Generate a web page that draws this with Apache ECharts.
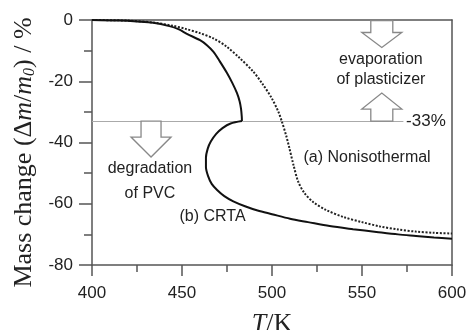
<!DOCTYPE html>
<html>
<head>
<meta charset="utf-8">
<script src="https://cdn.jsdelivr.net/npm/echarts@6/dist/echarts.min.js"></script>
<style>
  html, body { margin: 0; padding: 0; background: #fff; }
  #c { width: 466px; height: 330px; }
</style>
</head>
<body>
<div id="c"></div>
<script>
// Temperature axis (K) and mass-change axis (%)
const tempRange = [400, 600];
const tempStep = 50;
const massRange = [-80, 0];
const massStep = 20;

// (a) Nonisothermal run: [T / K, mass change / %]
const nonisothermal = [
  [400, 0], [420, -0.2], [435, -0.9], [445, -1.9], [452, -2.9], [460, -4.3],
  [467.4, -6.0], [474.8, -8.7], [482, -12.4], [489.5, -16.8], [495, -21.1],
  [499.8, -25.5], [503.5, -29.9], [505.5, -33.2], [508, -38.0], [509.5, -41.5],
  [512, -47.5], [514.5, -52.7], [518, -56.5], [523, -59.5], [530, -62.0],
  [540, -64.4], [550, -66.0], [560, -67.4], [570, -68.4], [580, -69.1],
  [590, -69.5], [600, -69.7]
];

// (b) CRTA run, heating branch up to the plasticizer loss level
const crtaUpper = [
  [400, 0], [415, -0.2], [425, -0.5], [434, -0.9], [443, -2.0], [448, -3.0],
  [453, -4.6], [460, -6.6], [464, -8.3], [467.5, -10.4], [471, -13.5],
  [475, -17.3], [478, -20.6], [480.5, -23.8], [482, -26.5], [482.8, -29.0],
  [483.2, -31.5], [483.3, -33.0]
];

// (b) CRTA run, back-bending branch during PVC degradation
const crtaLower = [
  [483.3, -33.0], [477, -33.8], [472.5, -35.3], [469, -37.2], [466, -39.7],
  [464.3, -42.0], [463.3, -45.0], [463.3, -48.0], [464.5, -51.0],
  [466.5, -53.5], [469.5, -55.5], [473.5, -57.5], [478.5, -59.2],
  [485, -60.8], [492, -62.2], [500, -63.4], [510, -64.9], [520, -66.0],
  [532, -67.3], [545, -68.3], [558, -69.2], [570, -70.0], [580, -70.5],
  [590, -71.0], [600, -71.4]
];

// Plasticizer content level
const plasticizerLevel = -33;
const plasticizerLabel = '-33%';

const sans = '"Liberation Sans", Arial, Helvetica, sans-serif';
const serif = '"Liberation Serif", "Times New Roman", serif';
const ink = '#222';
const frame = '#555';

const chart = echarts.init(document.getElementById('c'), null, { renderer: 'canvas' });

const frameAxis = {
  axisLine: { show: true, onZero: false, lineStyle: { color: frame, width: 1.5 } },
  splitLine: { show: false }
};

const titleRich = {
  n: { fontFamily: serif, fontSize: 26, color: ink },
  i: { fontFamily: serif, fontSize: 26, fontStyle: 'italic', color: ink },
  s: { fontFamily: serif, fontSize: 16, fontStyle: 'italic', color: ink, verticalAlign: 'bottom' }
};

const option = {
  animation: false,
  backgroundColor: '#fff',
  grid: { left: 92, right: 14, top: 20, bottom: 65, containLabel: false, outerBoundsMode: 'none' },
  xAxis: [
    Object.assign({}, frameAxis, {
      type: 'value', position: 'bottom',
      min: tempRange[0], max: tempRange[1], interval: tempStep,
      axisTick: { show: true, length: 11, lineStyle: { color: frame, width: 1.5 } },
      minorTick: { show: true, splitNumber: 2, length: 7, lineStyle: { color: frame, width: 1.5 } },
      axisLabel: { color: ink, fontSize: 17, fontFamily: sans, margin: 20 },
      name: '{i|T}{n|/K}',
      nameLocation: 'middle', nameGap: 46,
      nameTextStyle: { rich: titleRich }
    }),
    Object.assign({}, frameAxis, {
      type: 'value', position: 'top',
      min: tempRange[0], max: tempRange[1],
      axisTick: { show: false }, axisLabel: { show: false }
    })
  ],
  yAxis: [
    Object.assign({}, frameAxis, {
      type: 'value', position: 'left',
      min: massRange[0], max: massRange[1], interval: massStep,
      axisTick: { show: true, length: 13, lineStyle: { color: frame, width: 1.5 } },
      minorTick: { show: true, splitNumber: 2, length: 8, lineStyle: { color: frame, width: 1.5 } },
      axisLabel: { color: ink, fontSize: 17, fontFamily: sans, margin: 19 },
      name: '{n|Mass change (Δ}{i|m}{n|/}{i|m}{s|0}{n|) / %}',
      nameLocation: 'middle', nameRotate: 90, nameGap: 52,
      nameTextStyle: { rich: titleRich, padding: [0, 20, 0, 0] }
    }),
    Object.assign({}, frameAxis, {
      type: 'value', position: 'right',
      min: massRange[0], max: massRange[1],
      axisTick: { show: false }, axisLabel: { show: false }
    })
  ],
  series: [
    {
      name: '(a) Nonisothermal', type: 'line', data: nonisothermal,
      showSymbol: false, smooth: 0.3, z: 3,
      lineStyle: { color: ink, width: 2, type: [2, 1.6] },
      markLine: {
        silent: true, symbol: ['none', 'none'], z: 1,
        label: { show: false },
        lineStyle: { color: '#aaa', width: 1.2, type: 'solid' },
        data: [[{ coord: [tempRange[0], plasticizerLevel] }, { coord: [573, plasticizerLevel] }]]
      }
    },
    {
      name: '(b) CRTA', type: 'line', data: crtaUpper,
      showSymbol: false, smooth: 0.3, z: 4,
      lineStyle: { color: '#111', width: 2 }
    },
    {
      name: '(b) CRTA', type: 'line', data: crtaLower,
      showSymbol: false, smooth: 0.3, z: 4,
      lineStyle: { color: '#111', width: 2 }
    }
  ]
};

chart.setOption(option);

// Annotations placed in data space, converted to pixels
const toPx = (t, m) => chart.convertToPixel({ xAxisIndex: 0, yAxisIndex: 0 }, [t, m]);

function blockArrow(cx, y0, dir, shaftHalf, shaftLen, headHalf, headLen) {
  const d = dir; // +1 points down, -1 points up
  const y1 = y0 + d * shaftLen;
  const y2 = y1 + d * headLen;
  return {
    type: 'polygon', z: 10,
    shape: { points: [
      [cx - shaftHalf, y0], [cx + shaftHalf, y0], [cx + shaftHalf, y1],
      [cx + headHalf, y1], [cx, y2], [cx - headHalf, y1], [cx - shaftHalf, y1]
    ] },
    style: { fill: '#fff', stroke: '#888', lineWidth: 1.3 }
  };
}

function note(text, t, m, align, lineHeight, size) {
  const p = toPx(t, m);
  return {
    type: 'text', z: 11, x: p[0], y: p[1],
    style: {
      text: text, fill: ink, font: (size || 16) + 'px ' + sans,
      align: align, verticalAlign: 'middle', lineHeight: lineHeight || 20
    }
  };
}

const topLine = toPx(561, massRange[1]);
const levelRight = toPx(561, plasticizerLevel);
const levelLeft = toPx(432.8, plasticizerLevel);

chart.setOption({
  graphic: [
    blockArrow(topLine[0], topLine[1] + 0.5, 1, 11, 12, 20, 15),
    blockArrow(levelRight[0], levelRight[1], -1, 11, 12, 20, 16),
    blockArrow(levelLeft[0], levelLeft[1], 1, 10, 16, 20, 20),
    note('evaporation\nof plasticizer', 560.5, -16.1, 'center', 20),
    note('degradation\nof PVC', 432.2, -52.6, 'center', 25),
    note('(b) CRTA', 448.6, -64.2, 'left'),
    note('(a) Nonisothermal', 517.5, -44.8, 'left'),
    note(plasticizerLabel, 574.5, plasticizerLevel, 'left', 20, 17)
  ]
});
</script>
</body>
</html>
